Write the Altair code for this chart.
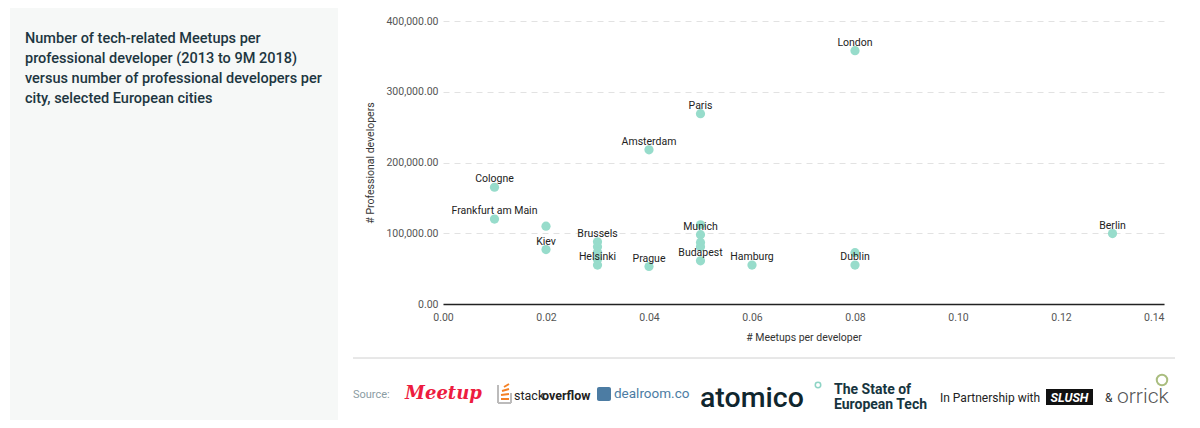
import altair as alt
import pandas as pd

# ---------------- data ----------------
cities = ["Cologne", "Frankfurt am Main", "", "Kiev",
          "Brussels", "", "", "", "Helsinki",
          "Amsterdam", "Prague",
          "Paris", "", "Munich", "", "", "Budapest",
          "Hamburg",
          "London", "", "Dublin",
          "Berlin"]
meetups_per_dev = [0.01, 0.01, 0.02, 0.02,
                   0.03, 0.03, 0.03, 0.03, 0.03,
                   0.04, 0.04,
                   0.05, 0.05, 0.05, 0.05, 0.05, 0.05,
                   0.06,
                   0.08, 0.08, 0.08,
                   0.13]
developers = [165000, 120000, 110000, 77000,
              88000, 81000, 73000, 63000, 55000,
              218000, 53000,
              269000, 112000, 98000, 87000, 81000, 61000,
              55000,
              358000, 72500, 55000,
              99500]
x_ticks = [0.0, 0.02, 0.04, 0.06, 0.08, 0.10, 0.12, 0.14]
y_ticks = [0, 100000, 200000, 300000, 400000]

title_lines = ["Number of tech-related Meetups per",
               "professional developer (2013 to 9M 2018)",
               "versus number of professional developers per",
               "city, selected European cities"]

df = pd.DataFrame({"city": cities, "mpd": meetups_per_dev, "devs": developers})
one = pd.DataFrame({"k": [0]})

FONT = "Roboto"
PT = "#97dccb"

W, H = 721, 283

xenc = alt.X("mpd:Q", scale=alt.Scale(domain=[0, 0.14], nice=False),
             axis=alt.Axis(values=x_ticks, format=".2f", title="# Meetups per developer",
                           grid=False, ticks=False, domain=True, domainColor="#222",
                           domainWidth=1.5, labelPadding=8, titlePadding=10,
                           labelAlign=alt.expr("datum.value >= 0.139 ? 'right' : 'center'")))
yenc = alt.Y("devs:Q", scale=alt.Scale(domain=[0, 400000], nice=False),
             axis=alt.Axis(values=y_ticks, format=",.2f", title="# Professional developers",
                           grid=True, gridDash=[6, 5], gridColor="#e2e2e2", ticks=False,
                           domain=False, labelPadding=5, titlePadding=10))

base = alt.Chart(df)
points = base.mark_circle(size=85, color=PT, opacity=1).encode(x=xenc, y=yenc)
labels = base.transform_filter("datum.city != ''").mark_text(
    dy=-8, fontSize=10.5, font=FONT, color="#222", baseline="middle"
).encode(x="mpd:Q", y="devs:Q", text="city:N")


def txt(s, x, y, size, color, weight="normal", align="left", style="normal", font=FONT, baseline="middle"):
    return alt.Chart(one).mark_text(text=s, fontSize=size, color=color, fontWeight=weight,
                                    align=align, font=font, fontStyle=style,
                                    baseline=baseline).encode(x=alt.value(x), y=alt.value(y))


def box(x, x2, y, y2, color, corner=0):
    return alt.Chart(one).mark_rect(color=color, cornerRadius=corner).encode(
        x=alt.value(x), x2=alt.value(x2), y=alt.value(y), y2=alt.value(y2))


def rule(x, x2, y, y2, color, w=1):
    return alt.Chart(one).mark_rule(color=color, strokeWidth=w).encode(
        x=alt.value(x), x2=alt.value(x2), y=alt.value(y), y2=alt.value(y2))


panel = box(-433, -105, -13, 399, "#f6f8f7")
title = alt.Chart(one).mark_text(text=title_lines, fontSize=14.5, lineHeight=20, color="#1d3641",
                                 fontWeight=500, align="left", baseline="middle", font=FONT
                                 ).encode(x=alt.value(-418), y=alt.value(18))

sep = rule(-90, 732, 337, 337, "#d0d0d0", 1)

footer = [
    txt("Source:", -90, 374, 11, "#8b9ca3"),
    txt("Meetup", -38, 373, 18, "#ed1c40", weight="bold", style="italic", font="DejaVu Serif"),
    # stackoverflow icon
    rule(55, 55, 364, 382, "#bcbbbb", 2), rule(55, 68, 382, 382, "#bcbbbb", 2),
    rule(68, 68, 372, 382, "#bcbbbb", 2),
    rule(58, 66, 378, 378, "#f48024", 2), rule(58, 66, 374, 373, "#f48024", 2),
    rule(59, 66, 370, 368, "#f48024", 2), rule(61, 66, 366, 363, "#f48024", 2),
    txt("stack", 71, 375, 12.5, "#222"),
    txt("overflow", 99, 375, 12.5, "#222", weight="bold"),
    box(154, 168, 366, 380, "#4c7ca3", 2),
    txt("dealroom.co", 171, 373, 13.5, "#4c7ca3"),
    txt("atomico", 257, 377, 28.5, "#10262e", weight=500),
    alt.Chart(one).mark_point(shape="circle", size=30, color="#5fc3ad", strokeWidth=1.5, filled=False
                              ).encode(x=alt.value(375), y=alt.value(364)),
    txt("The State of", 391, 369, 14, "#173540", weight="bold"),
    txt("European Tech", 391, 384, 14, "#173540", weight="bold"),
    txt("In Partnership with", 497, 377, 12, "#222"),
    box(603, 650, 368, 384, "#111"),
    txt("SLUSH", 626.5, 376.5, 12.5, "#fff", weight="bold", align="center", style="italic"),
    txt("&", 662, 377, 12, "#333"),
    txt("orrick", 674, 376, 21, "#555", weight=300),
    alt.Chart(one).mark_point(shape="circle", size=110, color="#86a24a", strokeWidth=2, filled=False
                              ).encode(x=alt.value(719), y=alt.value(359)),
]

chart = alt.layer(panel, title, points, labels, sep, *footer).properties(
    width=W, height=H,
    autosize=alt.AutoSizeParams(type="none"),
    padding={"left": 435, "top": 13, "right": 28, "bottom": 116},
    background="white",
).configure_view(stroke=None).configure_axis(
    labelFont=FONT, titleFont=FONT, labelFontSize=10.5, titleFontSize=10.5,
    labelColor="#555", titleColor="#333", titleFontWeight="normal"
)

chart.save("out.html", embed_options={"renderer": "svg", "actions": False})
